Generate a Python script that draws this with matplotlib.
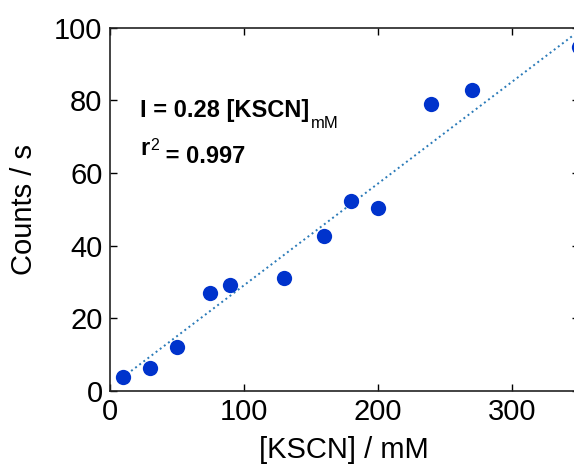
import matplotlib
matplotlib.use("Agg")
import matplotlib.pyplot as plt
from matplotlib import font_manager as fm
import numpy as np

plt.rcParams['font.family'] = ['Liberation Sans', 'DejaVu Sans']

kscn_mM = [10, 30, 50, 75, 90, 130, 160, 180, 200, 240, 270, 350]
counts = [3.8, 6.3, 12.1, 27.0, 29.2, 31.1, 42.6, 52.3, 50.3, 79.0, 82.8, 94.7]
fit_slope = 0.28
fit_intercept = 1.0
x_ticks = [0, 100, 200, 300]
y_ticks = [0, 20, 40, 60, 80, 100]

bold_fp = fm.FontProperties(family=['Liberation Sans', 'DejaVu Sans'], weight='bold', size=17)

fig = plt.figure(figsize=(5.74, 4.67), dpi=100)
ax = fig.add_axes([0.1908, 0.1627, 0.8175, 0.7784])

xf = np.array([min(kscn_mM), 350])
ax.plot(xf, fit_slope * xf + fit_intercept, linestyle=':', color='#2a7ab8', linewidth=1.4, zorder=1)
ax.plot(kscn_mM, counts, 'o', color='#0033cc', markersize=11, markeredgewidth=0, zorder=2)

ax.set_xlim(0, 350)
ax.set_ylim(0, 100)
ax.set_xticks(x_ticks)
ax.set_yticks(y_ticks)
ax.tick_params(direction='in', length=5, width=1, labelsize=21, top=True, right=True, pad=5)
for s in ax.spines.values():
    s.set_linewidth(1.2)
    s.set_color('#222222')

ax.set_xlabel('[KSCN] / mM', fontsize=21, labelpad=7)
ax.set_ylabel('Counts / s', fontsize=21, labelpad=12)

t1 = ax.text(0.066, 0.755, 'I = 0.28 [KSCN]', transform=ax.transAxes,
             fontproperties=bold_fp, va='baseline', ha='left')
ax.annotate('mM', xy=(1, 0), xycoords=t1, xytext=(0.5, -4.5), textcoords='offset points',
            fontsize=12, va='baseline', ha='left')
t2 = ax.text(0.066, 0.649, 'r', transform=ax.transAxes,
             fontproperties=bold_fp, va='baseline', ha='left')
t3 = ax.annotate('2', xy=(1, 0), xycoords=t2, xytext=(0.5, 7.2), textcoords='offset points',
                 fontsize=11.5, va='baseline', ha='left')
ax.annotate(' = 0.997', xy=(1, 0), xycoords=t3, xytext=(0, -7.2), textcoords='offset points',
            fontproperties=bold_fp, va='baseline', ha='left')

fig.savefig('out.png', dpi=100)
